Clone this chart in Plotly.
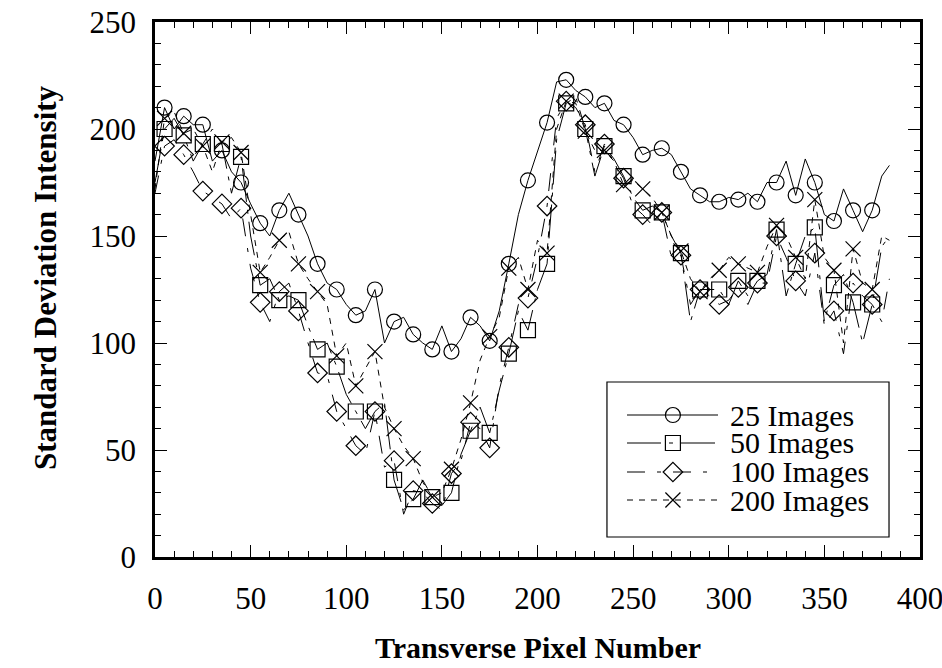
import plotly.graph_objects as go

# ---------------- data ----------------
marker_x = [5, 15, 25, 35, 45, 55, 65, 75, 85, 95, 105, 115, 125, 135, 145, 155, 165, 175, 185, 195,
            205, 215, 225, 235, 245, 255, 265, 275, 285, 295, 305, 315, 325, 335, 345, 355, 365, 375]
between_x = [0, 10, 20, 30, 40, 50, 60, 70, 80, 90, 100, 110, 120, 130, 140, 150, 160, 170, 180, 190,
             200, 210, 220, 230, 240, 250, 260, 270, 280, 290, 300, 310, 320, 330, 340, 350, 360, 370, 380, 384]

img25_marks = [210, 206, 202, 190, 175, 156, 162, 160, 137, 125, 113, 125, 110, 104, 97, 96, 112, 101, 137, 176,
               203, 223, 215, 212, 202, 188, 191, 180, 169, 166, 167, 166, 175, 169, 175, 157, 162, 162]
img25_between = [185, 200, 202, 185, 180, 165, 150, 170, 150, 128, 118, 115, 100, 112, 100, 108, 102, 108, 115, 160,
                 190, 222, 218, 210, 204, 196, 190, 188, 172, 166, 168, 170, 175, 185, 186, 160, 172, 152, 178, 183]

img50_marks = [200, 197, 193, 193, 187, 127, 120, 120, 97, 89, 68, 68, 36, 27, 28, 30, 59, 58, 95, 106,
               137, 212, 200, 192, 178, 162, 161, 142, 125, 125, 129, 129, 153, 137, 154, 127, 119, 118]
img50_between = [175, 205, 185, 200, 170, 150, 130, 122, 108, 100, 76, 60, 72, 22, 36, 24, 48, 70, 78, 115,
                 125, 195, 215, 178, 186, 168, 164, 150, 110, 125, 118, 122, 132, 122, 150, 110, 132, 100, 145, 150]

img100_marks = [192, 188, 171, 165, 163, 119, 124, 115, 86, 68, 52, 68, 45, 31, 25, 39, 63, 51, 98, 121,
                164, 213, 202, 193, 177, 160, 161, 141, 125, 118, 126, 128, 150, 129, 142, 115, 128, 118]
img100_between = [170, 195, 180, 168, 158, 135, 110, 128, 100, 85, 60, 48, 42, 20, 30, 22, 45, 60, 80, 118,
                  140, 205, 210, 180, 184, 164, 155, 140, 118, 122, 120, 118, 128, 140, 122, 108, 95, 122, 110, 130]

img200_marks = [205, 198, 192, 194, 189, 133, 148, 137, 124, 94, 80, 96, 60, 46, 28, 41, 72, 103, 135, 125,
                142, 213, 199, 190, 174, 172, 161, 143, 124, 134, 137, 133, 155, 140, 167, 134, 144, 125]
img200_between = [172, 208, 200, 180, 196, 160, 140, 152, 130, 118, 100, 88, 70, 52, 35, 30, 55, 92, 112, 140,
                  148, 200, 212, 190, 185, 176, 168, 150, 130, 130, 140, 135, 145, 150, 130, 140, 100, 128, 150, 148]

series_names = ["25 Images", "50 Images", "100 Images", "200 Images"]
series_marks = [img25_marks, img50_marks, img100_marks, img200_marks]
series_between = [img25_between, img50_between, img100_between, img200_between]

x_ticks = [0, 50, 100, 150, 200, 250, 300, 350, 400]
y_ticks = [0, 50, 100, 150, 200, 250]
x_title = "Transverse Pixel Number"
y_title = "Standard Deviation Intensity"

# ---------------- styles ----------------
symbols = ["circle-open", "square-open", "diamond-open", "x-thin-open"]
dashes = ["solid", "34px,8px,4px,8px", "18px,12px,4px,12px", "6px,6px"]
FONT = "Liberation Serif"

fig = go.Figure()
for name, mk, bt, sym, dash in zip(series_names, series_marks, series_between, symbols, dashes):
    pts = sorted(list(zip(marker_x, mk)) + list(zip(between_x, bt)))
    fig.add_trace(go.Scatter(x=[p[0] for p in pts], y=[p[1] for p in pts], mode="lines",
                             showlegend=False, hoverinfo="skip",
                             line=dict(color="black", width=1, dash=dash)))
    fig.add_trace(go.Scatter(x=marker_x, y=mk, mode="markers", name=name, showlegend=False,
                             marker=dict(symbol=sym, size=15, color="black",
                                         line=dict(color="black", width=1.2))))

# ---------------- legend drawn in paper space (overlay axes for markers) ----------------
leg_box = (0.5908, 0.0374, 0.9595, 0.3271)
leg_rows = [0.2654, 0.2131, 0.1589, 0.1065]
leg_line = (0.617, 0.736)
leg_mark_x = 0.677
leg_text_x = 0.749

fig.add_shape(type="rect", xref="paper", yref="paper",
              x0=leg_box[0], y0=leg_box[1], x1=leg_box[2], y1=leg_box[3],
              line=dict(color="black", width=1.2), fillcolor="white", layer="below")
for name, sym, dash, ry in zip(series_names, symbols, dashes, leg_rows):
    fig.add_shape(type="line", xref="paper", yref="paper",
                  x0=leg_line[0], x1=leg_line[1], y0=ry, y1=ry,
                  line=dict(color="black", width=1.2, dash=dash))
    fig.add_trace(go.Scatter(x=[leg_mark_x], y=[ry], xaxis="x2", yaxis="y2", mode="markers",
                             showlegend=False, hoverinfo="skip",
                             marker=dict(symbol=sym.replace("-open", ""), size=15, color="white",
                                         line=dict(color="black", width=1.2))))
    fig.add_annotation(x=leg_text_x, y=ry, xref="paper", yref="paper", text=name,
                       showarrow=False, xanchor="left", yanchor="middle",
                       font=dict(family=FONT, size=30, color="black"))

# axis titles
fig.add_annotation(x=0.5, y=-0.170, xref="paper", yref="paper", text="<b>" + x_title + "</b>",
                   showarrow=False, xanchor="center", yanchor="middle",
                   font=dict(family=FONT, size=30, color="black"))
fig.add_annotation(x=-0.144, y=0.523, xref="paper", yref="paper", text="<b>" + y_title + "</b>",
                   showarrow=False, xanchor="center", yanchor="middle", textangle=-90,
                   font=dict(family=FONT, size=31, color="black"))

axis_common = dict(
    showline=True, linecolor="black", linewidth=2.5, mirror="ticks",
    ticks="inside", ticklen=12, tickwidth=1, tickcolor="black",
    showgrid=False, zeroline=False, automargin=False, ticklabeloverflow="allow",
    tickfont=dict(family=FONT, size=31, color="black"),
)

fig.update_xaxes(range=[0, 400], tickvals=x_ticks, ticktext=[str(v) for v in x_ticks],
                 minor=dict(dtick=10, tick0=0, ticks="inside", ticklen=6, tickcolor="black", tickwidth=1),
                 ticklabelstandoff=12, **axis_common)
fig.update_yaxes(range=[0, 250], tickvals=y_ticks, ticktext=[str(v) for v in y_ticks],
                 minor=dict(dtick=10, tick0=0, ticks="inside", ticklen=6, tickcolor="black", tickwidth=1),
                 ticklabelstandoff=10, **axis_common)

fig.update_layout(
    xaxis2=dict(overlaying="x", range=[0, 1], visible=False, fixedrange=True),
    yaxis2=dict(overlaying="y", range=[0, 1], visible=False, fixedrange=True),
    width=942, height=668,
    margin=dict(l=155, r=22, t=22, b=111, autoexpand=False),
    paper_bgcolor="white", plot_bgcolor="white",
    font=dict(family=FONT, color="black"),
    showlegend=False,
)

fig.write_html("out.html", config={"displayModeBar": False},
               post_script="document.body.style.margin='0';document.body.style.overflow='hidden';")
